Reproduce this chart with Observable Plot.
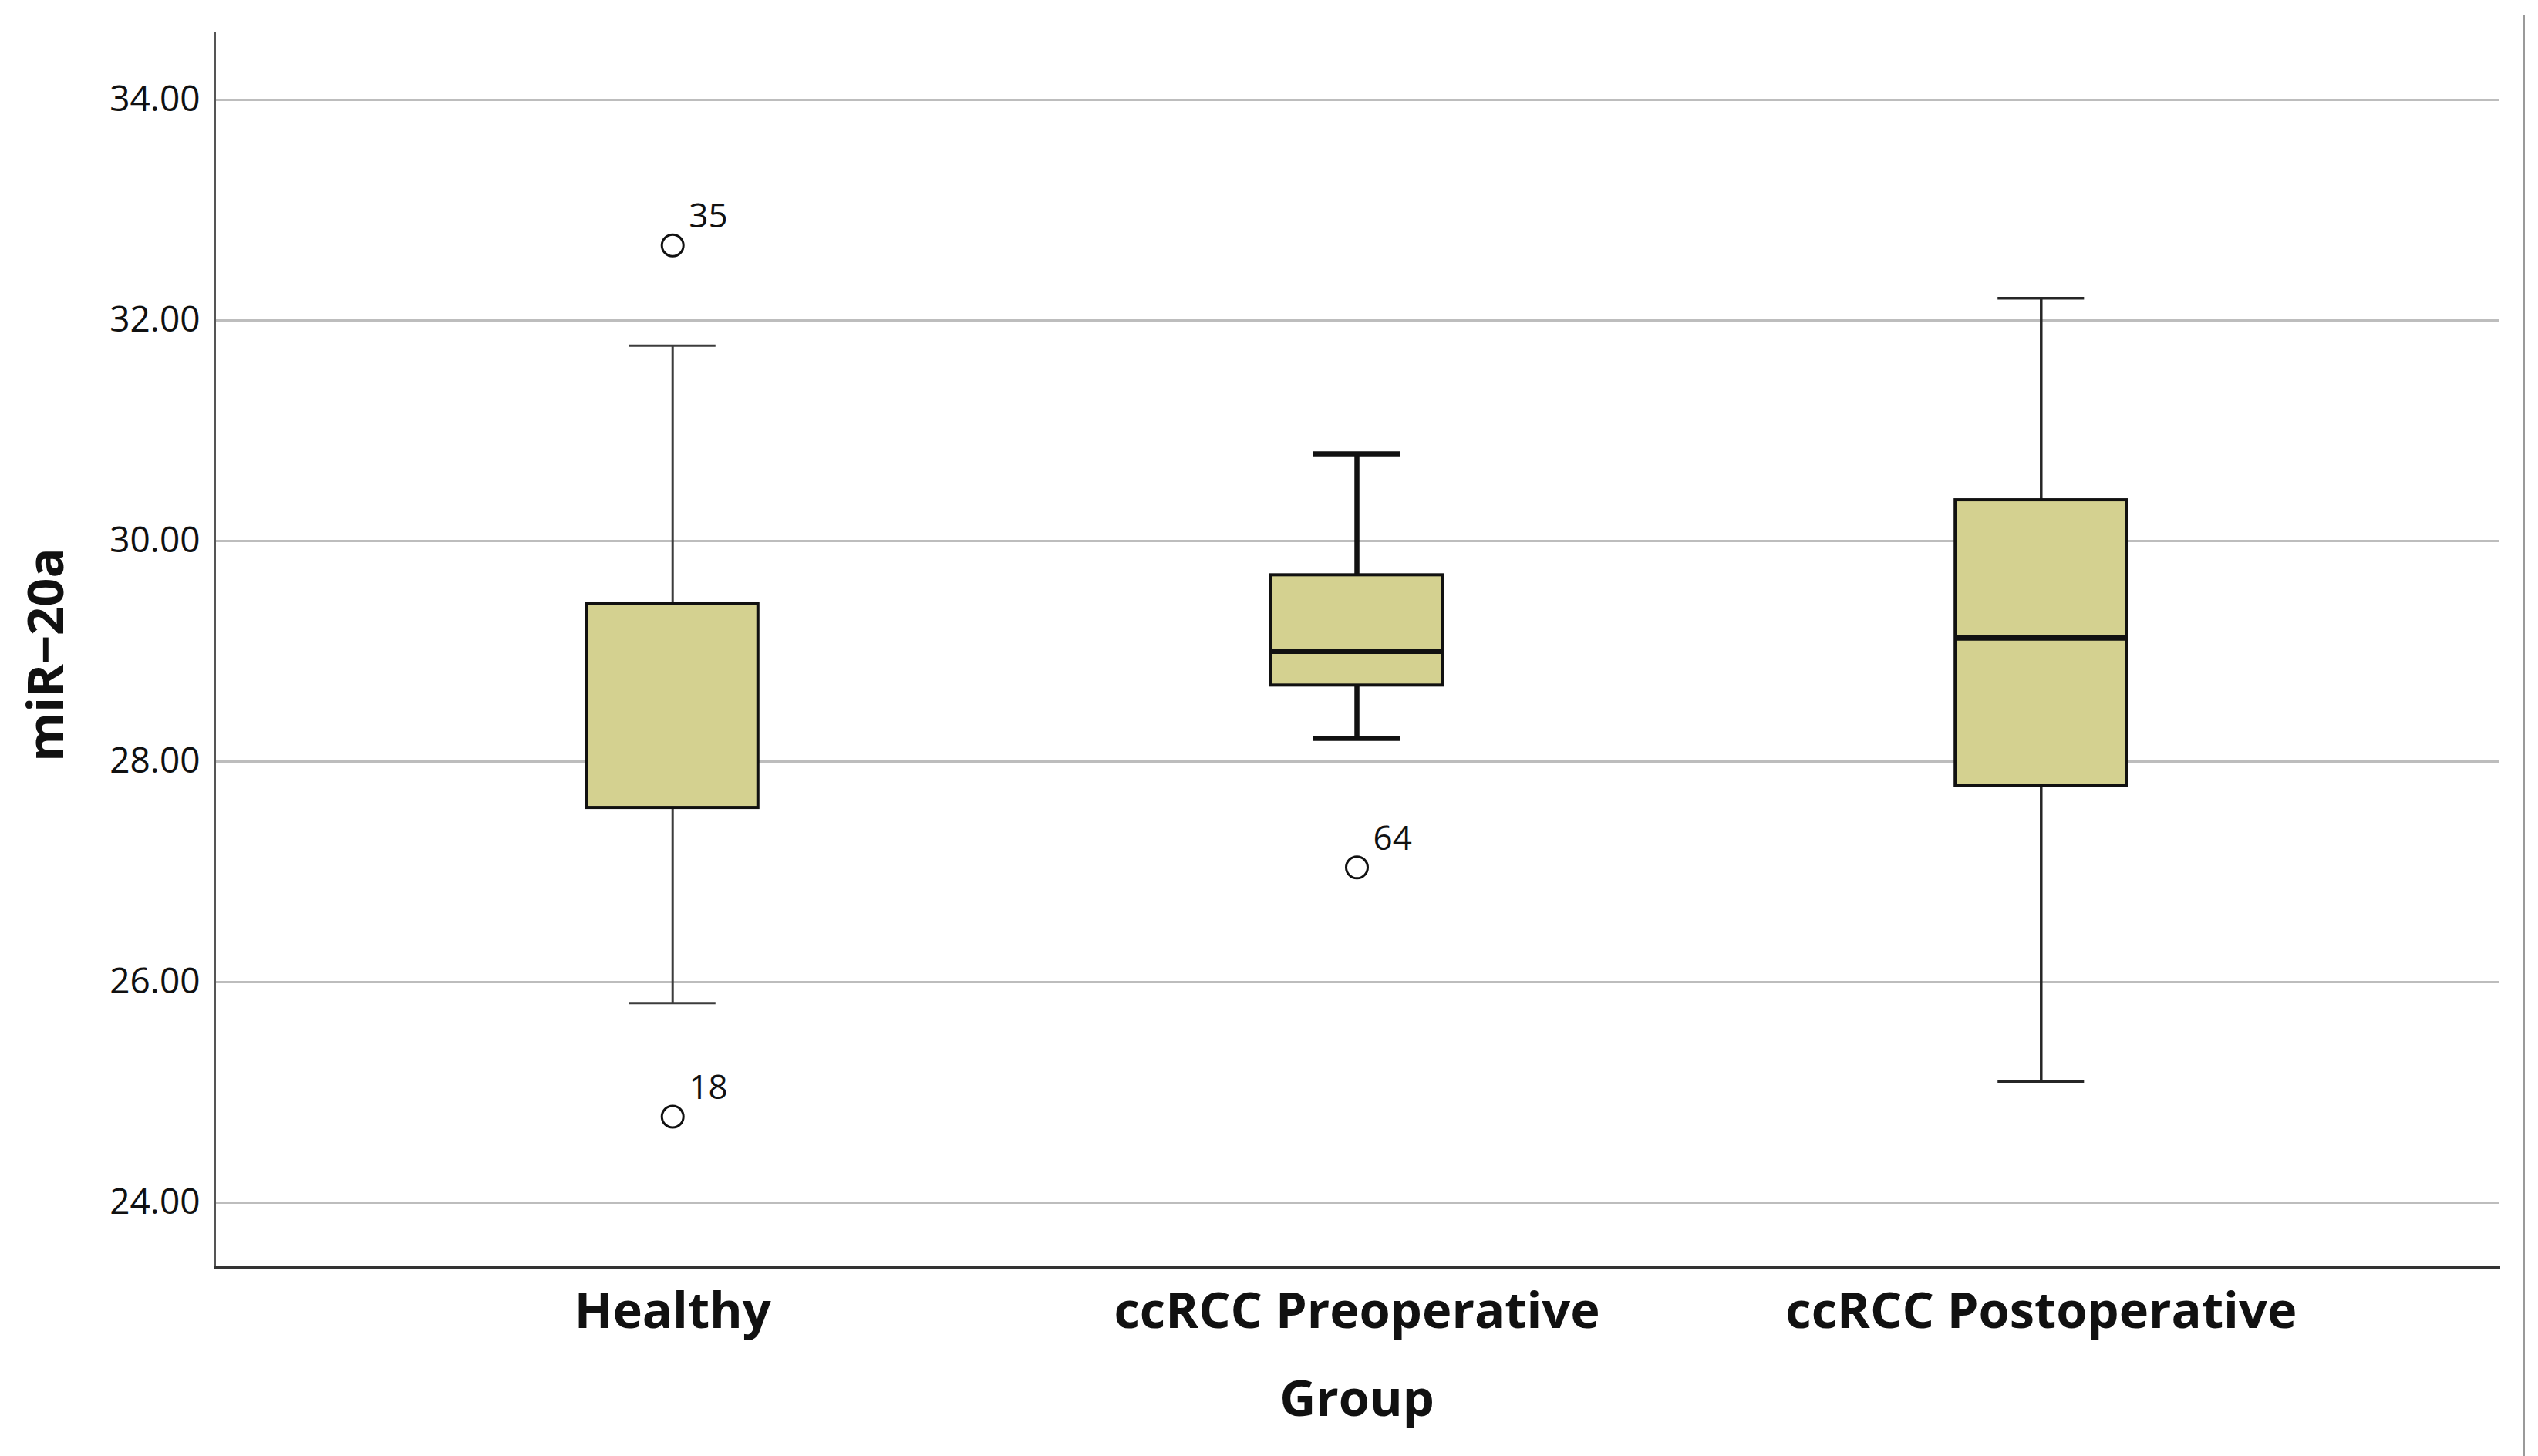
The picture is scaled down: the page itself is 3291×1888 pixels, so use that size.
<!DOCTYPE html>
<html>
<head>
<meta charset="utf-8">
<script src="https://cdn.jsdelivr.net/npm/d3@7"></script>
<script src="https://cdn.jsdelivr.net/npm/@observablehq/plot@0.6"></script>
<style>
  html, body { margin: 0; padding: 0; background: #fff; }
  #wrap { position: relative; width: 3291px; height: 1888px; overflow: hidden; }
  #edge { position: absolute; left: 3271px; top: 20px; width: 0; height: 1868px; border-left: 3px solid #9a9a9a; }
</style>
</head>
<body>
<div id="wrap"><div id="edge"></div></div>
<script>
// ---- data ----
const groups = ["Healthy", "ccRCC Preoperative", "ccRCC Postoperative"];
const lowerWhisker = [25.81, 28.21, 25.10];
const q1 = [27.58, 28.69, 27.78];
const median = [null, 29.00, 29.12];
const q3 = [29.43, 29.69, 30.37];
const upperWhisker = [31.77, 30.79, 32.20];

const outlierGroup = ["Healthy", "Healthy", "ccRCC Preoperative"];
const outlierValue = [32.68, 24.78, 27.04];
const outlierId = ["35", "18", "64"];

const yTicks = [24, 26, 28, 30, 32, 34];
const yDomain = [23.413, 34.608];

// ---- styles (kept separate from data) ----
const whiskerWidth = {"Healthy": 3, "ccRCC Preoperative": 6.5, "ccRCC Postoperative": 3.5};
const whiskerColor = {"Healthy": "#3c3c3c", "ccRCC Preoperative": "#111111", "ccRCC Postoperative": "#262626"};
const boxFill = "#d4d190";
const font = "'Open Sans', sans-serif";

const boxes = groups.map((g, i) => ({
  group: g, lo: lowerWhisker[i], q1: q1[i], med: median[i], q3: q3[i], hi: upperWhisker[i]
}));
const outliers = outlierGroup.map((g, i) => ({group: g, value: outlierValue[i], id: outlierId[i]}));
const caps = boxes.flatMap(d => [{group: d.group, v: d.lo}, {group: d.group, v: d.hi}]);

const chart = Plot.plot({
  width: 3291,
  height: 1888,
  marginLeft: 278,
  marginRight: 51,
  marginTop: 42,
  marginBottom: 245,
  style: {fontFamily: font, color: "#111", background: "#fff", overflow: "visible"},
  x: {type: "band", domain: groups, paddingInner: 0.7497, paddingOuter: 0.544, round: false},
  y: {domain: yDomain},
  marks: [
    Plot.gridY(yTicks, {stroke: "#bdbdbd", strokeOpacity: 1, strokeWidth: 3}),
    Plot.frame({anchor: "left", stroke: "#555", strokeWidth: 3}),
    Plot.frame({anchor: "bottom", stroke: "#333", strokeWidth: 3}),
    Plot.axisY({ticks: yTicks, tickFormat: d3.format(".2f"), tickSize: 0, tickPadding: 19,
      fontSize: 46, label: null}),
    Plot.axisX({tickSize: 0, tickPadding: 32, fontSize: 65, fontWeight: "bold", label: null}),
    Plot.ruleX(boxes, {x: "group", y1: "lo", y2: "hi",
      stroke: d => whiskerColor[d.group], strokeWidth: d => whiskerWidth[d.group]}),
    Plot.tickY(caps, {x: "group", y: "v", insetLeft: 55, insetRight: 55,
      stroke: d => whiskerColor[d.group], strokeWidth: d => whiskerWidth[d.group]}),
    Plot.barY(boxes, {x: "group", y1: "q1", y2: "q3", fill: boxFill, stroke: "#111", strokeWidth: 4}),
    Plot.tickY(boxes.filter(d => d.med != null), {x: "group", y: "med", stroke: "#111", strokeWidth: 7}),
    Plot.dot(outliers, {x: "group", y: "value", r: 14, fill: "#fff", stroke: "#111", strokeWidth: 3}),
    Plot.text(outliers, {x: "group", y: "value", text: "id", dx: 21, dy: -37, textAnchor: "start",
      fontSize: 44, fill: "#111"}),
    Plot.text(["Group"], {frameAnchor: "bottom", dy: 192, lineAnchor: "bottom", textAnchor: "middle",
      fontSize: 65, fontWeight: "bold", fill: "#111"}),
    Plot.text(["miR\u221220a"], {frameAnchor: "left", rotate: -90, dx: -217, dy: 6,
      textAnchor: "middle", lineAnchor: "middle",
      fontSize: 65, fontWeight: "bold", fill: "#111"})
  ]
});
document.getElementById("wrap").prepend(chart);
</script>
</body>
</html>
